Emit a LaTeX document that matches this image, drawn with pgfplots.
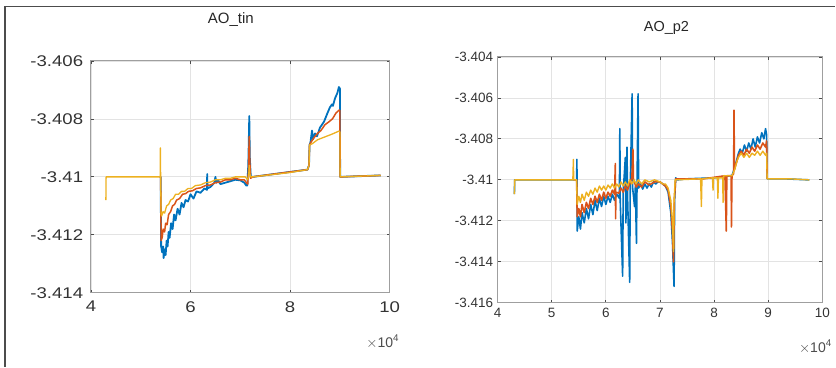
\documentclass[border=0pt]{standalone}
\usepackage{pgfplots}
\pgfplotsset{compat=1.18}
\usepackage{fontspec}
\setmainfont{Liberation Sans}
\definecolor{mblue}{rgb}{0,0.447,0.741}
\definecolor{morange}{rgb}{0.85,0.325,0.098}
\definecolor{myellow}{rgb}{0.929,0.694,0.125}
\pgfplotsset{
  mstyle/.style={
    scale only axis,
    anchor=south west,
    axis line style={draw=gray!75, line width=1pt},
    grid=major,
    grid style={draw=gray!22, line width=0.8pt},
    tick align=inside,
    major tick length=3pt,
    tick style={draw=black!70, line width=0.8pt},
    xtick pos=both, ytick pos=both,
    scaled ticks=false,
    clip=true,
    every axis plot/.append style={line join=round},
  }
}
\begin{document}
\begin{tikzpicture}[x=1pt,y=1pt]
\path (0,0) rectangle (836,367);
\draw[line width=1.3pt, black!70] (5,0) -- (5,360.5) -- (836,360.5);
% ---------------- left: AO_tin ----------------
\begin{axis}[mstyle,
  at={(91pt,74pt)}, width=299pt, height=232pt,
  xmin=4, xmax=10, ymin=-3.414, ymax=-3.406,
  xtick={4,6,8,10}, xticklabels={4,6,8,10},
  ytick={-3.414,-3.412,-3.41,-3.408,-3.406},
  yticklabels={-3.414,-3.412,-3.41,-3.408,-3.406},
  tick label style={font=\fontsize{15.5}{15.5}\selectfont, text=black!80, xscale=1.2},
  yticklabel style={xshift=-3pt},
  xticklabel style={yshift=-5pt},
]
\addplot[mblue, line width=1.8pt] coordinates {
(5.38,-3.4100) (5.40,-3.4100) (5.41,-3.4124) (5.43,-3.4126) (5.45,-3.4124) (5.46,-3.4128)
(5.48,-3.4125) (5.50,-3.4127) (5.52,-3.4122) (5.54,-3.4124) (5.56,-3.4119) (5.58,-3.4121)
(5.61,-3.4116) (5.64,-3.4118) (5.67,-3.4113) (5.70,-3.4115) (5.74,-3.4111) (5.78,-3.4113)
(5.82,-3.4109) (5.86,-3.41105) (5.90,-3.4108) (5.95,-3.41085) (6.00,-3.4106) (6.06,-3.41075)
(6.12,-3.4105) (6.20,-3.41055) (6.28,-3.4104) (6.33,-3.41045) (6.335,-3.4099) (6.34,-3.4104)
(6.40,-3.41035) (6.48,-3.4102) (6.50,-3.4100) (6.52,-3.4102) (6.55,-3.4101) (6.60,-3.41025)
(6.70,-3.4102) (6.80,-3.41015) (6.90,-3.4101) (7.00,-3.41012) (7.08,-3.4102) (7.12,-3.4103)
(7.14,-3.4103) (7.16,-3.4096) (7.17,-3.4088) (7.18,-3.4079) (7.185,-3.4085) (7.19,-3.4093)
(7.21,-3.4100) (7.25,-3.4100)
(8.35,-3.40975) (8.38,-3.4096) (8.39,-3.4089) (8.41,-3.4088) (8.44,-3.4084) (8.46,-3.4087)
(8.50,-3.4085) (8.54,-3.4086) (8.60,-3.4083) (8.68,-3.4081) (8.75,-3.4078) (8.80,-3.4076)
(8.84,-3.4075) (8.86,-3.40755) (8.90,-3.4073) (8.95,-3.4071) (8.98,-3.4069) (9.00,-3.40695)
(9.005,-3.4100) (9.82,-3.40995)
};
\addplot[morange, line width=1.5pt] coordinates {
(5.38,-3.4100) (5.40,-3.4100) (5.41,-3.4122) (5.43,-3.4121) (5.45,-3.4118) (5.48,-3.4119)
(5.50,-3.4116) (5.53,-3.41165) (5.56,-3.4113) (5.60,-3.4112) (5.64,-3.4110) (5.68,-3.41095)
(5.72,-3.4108) (5.78,-3.41075) (5.84,-3.4106) (5.90,-3.41058) (5.96,-3.4105) (6.04,-3.41048)
(6.12,-3.4104) (6.20,-3.41038) (6.30,-3.4103) (6.40,-3.41028) (6.50,-3.4102) (6.60,-3.41018)
(6.70,-3.4101) (6.80,-3.41010) (6.90,-3.41005) (7.00,-3.4101) (7.08,-3.4101) (7.12,-3.4102)
(7.15,-3.41025) (7.165,-3.4097) (7.175,-3.4089) (7.18,-3.4086) (7.19,-3.4094) (7.205,-3.41005)
(7.25,-3.4100)
(8.35,-3.40975) (8.38,-3.4096) (8.39,-3.4089) (8.42,-3.4088) (8.48,-3.40865) (8.55,-3.4085)
(8.62,-3.4084) (8.70,-3.4082) (8.78,-3.4081) (8.85,-3.4080) (8.92,-3.4078) (8.98,-3.4077)
(9.00,-3.4077) (9.005,-3.4100) (9.82,-3.40995)
};
\addplot[myellow, line width=1.3pt] coordinates {
(4.30,-3.4108) (4.305,-3.4100) (5.39,-3.4100) (5.395,-3.4090) (5.40,-3.4100) (5.41,-3.4113)
(5.42,-3.41135) (5.45,-3.4112) (5.48,-3.41125) (5.52,-3.4110) (5.56,-3.41095) (5.60,-3.4108)
(5.65,-3.41075) (5.70,-3.4106) (5.76,-3.41060) (5.82,-3.4105) (5.88,-3.41050) (5.95,-3.4104)
(6.02,-3.41040) (6.10,-3.41030) (6.20,-3.41028) (6.30,-3.4102) (6.40,-3.41018) (6.50,-3.4101)
(6.60,-3.41010) (6.70,-3.41005) (6.80,-3.41005) (6.90,-3.4100) (7.00,-3.41000) (7.10,-3.4100)
(7.15,-3.4101) (7.17,-3.4099) (7.18,-3.4096) (7.19,-3.4099) (7.21,-3.4100) (7.25,-3.4100)
(7.60,-3.40993) (8.00,-3.40985) (8.35,-3.40975) (8.38,-3.4096) (8.39,-3.4089) (8.45,-3.40885)
(8.55,-3.40872) (8.70,-3.40862) (8.85,-3.40852) (8.98,-3.40842) (9.00,-3.40845) (9.005,-3.4100)
(9.82,-3.40995)
};
\end{axis}
% ---------------- right: AO_p2 ----------------
\begin{axis}[mstyle,
  at={(498pt,64pt)}, width=325pt, height=246pt,
  xmin=4, xmax=10, ymin=-3.416, ymax=-3.404,
  xtick={4,5,6,7,8,9,10}, xticklabels={4,5,6,7,8,9,10},
  ytick={-3.416,-3.414,-3.412,-3.41,-3.408,-3.406,-3.404},
  yticklabels={-3.416,-3.414,-3.412,-3.41,-3.408,-3.406,-3.404},
  tick label style={font=\fontsize{13.5}{13.5}\selectfont, text=black!80},
  yticklabel style={xshift=-1pt},
  xticklabel style={yshift=-2pt},
]
\addplot[mblue, line width=1.6pt] coordinates {
(4.31,-3.4107) (4.315,-3.4100) (5.40,-3.4100) (5.46,-3.4100) (5.465,-3.4090) (5.47,-3.4125)
(5.50,-3.4118) (5.53,-3.4124) (5.56,-3.4116) (5.60,-3.4121) (5.64,-3.4114) (5.68,-3.4119)
(5.72,-3.4112) (5.76,-3.4117) (5.80,-3.4110) (5.84,-3.4115) (5.88,-3.4109) (5.92,-3.4113)
(5.96,-3.4108) (6.00,-3.4112) (6.04,-3.4108) (6.08,-3.4111) (6.12,-3.4107) (6.16,-3.4110)
(6.20,-3.4107) (6.25,-3.4109) (6.258,-3.4075) (6.265,-3.4110) (6.31,-3.4147) (6.32,-3.4106)
(6.36,-3.4089) (6.37,-3.4121) (6.39,-3.4084) (6.40,-3.4107) (6.44,-3.4150) (6.45,-3.4104)
(6.485,-3.4058) (6.495,-3.4104) (6.53,-3.4113) (6.545,-3.4103) (6.565,-3.4131) (6.575,-3.4104)
(6.595,-3.4058) (6.605,-3.4104) (6.64,-3.4102) (6.68,-3.41045) (6.72,-3.4102) (6.76,-3.4104)
(6.80,-3.4102) (6.84,-3.41035) (6.88,-3.4101) (6.92,-3.4102) (6.96,-3.4101) (7.00,-3.4101)
(7.05,-3.4102) (7.10,-3.4103) (7.15,-3.4106) (7.20,-3.4116) (7.23,-3.4130) (7.25,-3.4145)
(7.26,-3.4152) (7.27,-3.4110) (7.29,-3.4099) (7.32,-3.4100) (7.50,-3.40995) (8.00,-3.4099)
(8.30,-3.4098) (8.33,-3.4098) (8.38,-3.4094) (8.42,-3.4090) (8.45,-3.4087) (8.48,-3.4085)
(8.52,-3.4087) (8.56,-3.4083) (8.60,-3.4086) (8.64,-3.4082) (8.68,-3.4085) (8.72,-3.4080)
(8.76,-3.4084) (8.80,-3.4079) (8.84,-3.4082) (8.88,-3.4077) (8.92,-3.4080) (8.95,-3.4075)
(8.97,-3.4078) (8.98,-3.40995) (9.30,-3.40995) (9.76,-3.4100)
};
\addplot[morange, line width=1.6pt] coordinates {
(5.40,-3.4100) (5.46,-3.4100) (5.47,-3.4118) (5.50,-3.4114) (5.53,-3.4118) (5.56,-3.4112)
(5.60,-3.4116) (5.64,-3.4111) (5.68,-3.4114) (5.72,-3.4109) (5.76,-3.4112) (5.80,-3.4108)
(5.84,-3.4111) (5.88,-3.4107) (5.92,-3.4110) (5.96,-3.4106) (6.00,-3.4109) (6.04,-3.4106)
(6.08,-3.4108) (6.12,-3.4105) (6.16,-3.4107) (6.175,-3.4092) (6.18,-3.4119) (6.185,-3.4106)
(6.24,-3.41065) (6.28,-3.4104) (6.32,-3.4106) (6.36,-3.4103) (6.40,-3.4105) (6.44,-3.4102)
(6.48,-3.4099) (6.50,-3.4085) (6.51,-3.4100) (6.56,-3.41035) (6.60,-3.4102) (6.66,-3.41035)
(6.72,-3.4101) (6.80,-3.41025) (6.90,-3.4101) (7.00,-3.4101) (7.05,-3.4102) (7.10,-3.4103)
(7.15,-3.4105) (7.20,-3.4113) (7.23,-3.4125) (7.25,-3.4140) (7.265,-3.4110) (7.29,-3.40995)
(7.80,-3.40995) (8.20,-3.4098) (8.225,-3.4125) (8.235,-3.4098) (8.315,-3.4098) (8.32,-3.4123)
(8.33,-3.4098) (8.36,-3.4097) (8.368,-3.4066) (8.375,-3.4095) (8.42,-3.4091) (8.45,-3.4088)
(8.50,-3.4086) (8.55,-3.4088) (8.60,-3.4085) (8.65,-3.4087) (8.70,-3.4084) (8.75,-3.4086)
(8.80,-3.4083) (8.85,-3.4085) (8.90,-3.4082) (8.95,-3.4084) (8.97,-3.4081) (8.98,-3.40995)
};
\addplot[myellow, line width=1.4pt] coordinates {
(4.31,-3.4107) (4.315,-3.4100) (5.39,-3.4100) (5.40,-3.4090) (5.405,-3.4100) (5.46,-3.4100)
(5.47,-3.4112) (5.50,-3.4108) (5.53,-3.4111) (5.56,-3.4107) (5.60,-3.4110) (5.64,-3.4106)
(5.68,-3.4108) (5.72,-3.4105) (5.76,-3.4107) (5.80,-3.4104) (5.84,-3.4106) (5.88,-3.4103)
(5.92,-3.4105) (5.96,-3.4103) (6.00,-3.4105) (6.04,-3.41025) (6.08,-3.4104) (6.12,-3.4102)
(6.16,-3.4104) (6.20,-3.4102) (6.24,-3.41035) (6.28,-3.4101) (6.32,-3.4103) (6.36,-3.4101)
(6.40,-3.4103) (6.44,-3.4100) (6.48,-3.4102) (6.52,-3.4100) (6.56,-3.4102) (6.60,-3.4100)
(6.66,-3.4102) (6.72,-3.4100) (6.80,-3.4101) (6.90,-3.4100) (7.00,-3.4101) (7.05,-3.4102)
(7.10,-3.4102) (7.15,-3.4104) (7.20,-3.4110) (7.23,-3.4120) (7.25,-3.4135) (7.26,-3.4110)
(7.28,-3.4100) (7.75,-3.40995) (7.765,-3.4113) (7.775,-3.40995) (7.97,-3.4099) (7.98,-3.4105)
(7.99,-3.4099) (8.06,-3.4099) (8.07,-3.4109) (8.08,-3.4099) (8.16,-3.4099) (8.165,-3.4111)
(8.175,-3.4098) (8.33,-3.4098) (8.38,-3.4095) (8.42,-3.4091) (8.45,-3.4089) (8.50,-3.4087)
(8.55,-3.4089) (8.60,-3.4087) (8.65,-3.4089) (8.70,-3.4087) (8.75,-3.4088) (8.80,-3.4086)
(8.85,-3.4088) (8.90,-3.4086) (8.95,-3.4088) (8.97,-3.4087) (8.98,-3.40995) (9.40,-3.40995)
(9.76,-3.4100)
};
\end{axis}
% titles and exponent labels
\node[font=\fontsize{15}{15}\selectfont, text=black!85] at (231,347) {AO\_tin};
\node[font=\fontsize{14.5}{14.5}\selectfont, text=black!85] at (667,339) {AO\_p2};
\node[font=\fontsize{14}{14}\selectfont, text=black!70] at (383,25) {$\times$10\textsuperscript{4}};
\node[font=\fontsize{14}{14}\selectfont, text=black!70] at (816,20) {$\times$10\textsuperscript{4}};
\end{tikzpicture}
\end{document}
